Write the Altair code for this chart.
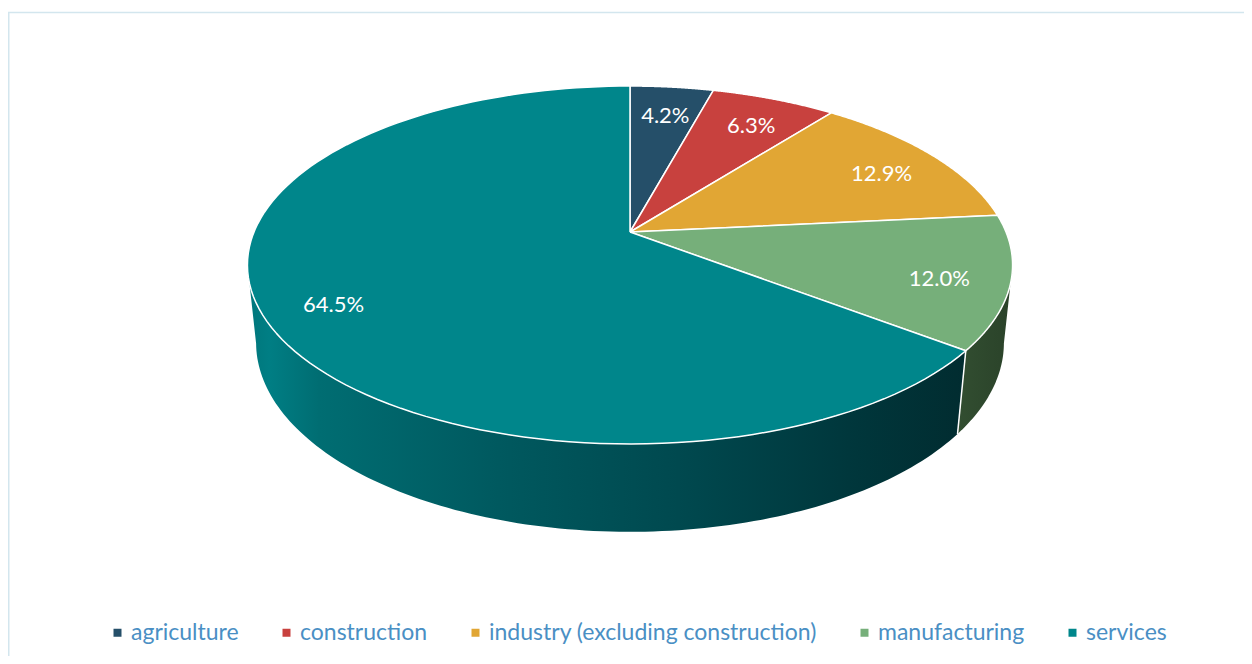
import altair as alt
import pandas as pd

# ---------------- data ----------------
CATEGORIES = ["agriculture", "construction", "industry (excluding construction)",
              "manufacturing", "services"]
VALUES = [4.2, 6.3, 12.9, 12.0, 64.5]
COLORS = ["#254f69", "#c8413e", "#e1a634", "#76af7a", "#00868b"]

# ---------------- geometry / style ----------------
W, H = 1236, 648
CX, CY = 622, 224          # pie apex (view pixels)
F = 1810.7                 # focal scale
D = 4.8156                 # camera distance (radius units)
SB, CB = 0.4598, 0.8880    # sin / cos of camera elevation
HT = 0.2347                # pie thickness (radius units)
N = 120                    # points per arc
LABEL_R = 0.82

pie = pd.DataFrame({"cat": CATEGORIES, "value": VALUES,
                    "idx": list(range(len(CATEGORIES)))})


def px(a, r="1", z="0"):
    return (f"{CX} + {F}*({r})*sin({a})/"
            f"({D} + ({r})*cos({a})*{CB} + ({z})*{HT}*{SB})")


def py(a, r="1", z="0"):
    return (f"{CY} + {F}*(-({r})*cos({a})*{SB} + ({z})*{HT}*{CB})/"
            f"({D} + ({r})*cos({a})*{CB} + ({z})*{HT}*{SB})")


XS = alt.Scale(domain=[0, W], nice=False, zero=False)
YS = alt.Scale(domain=[0, H], nice=False, zero=False, reverse=True)

base = (alt.Chart(pie)
        .transform_joinaggregate(total="sum(value)")
        .transform_window(cum="sum(value)", sort=[alt.SortField("idx")], frame=[None, 0])
        .transform_calculate(a1="2*PI*datum.cum/datum.total")
        .transform_calculate(a0="datum.a1 - 2*PI*datum.value/datum.total",
                             aR=f"acos(-{CB}/{D})")
        .transform_calculate(aL="2*PI - datum.aR"))

fill_scale = alt.Scale(domain=CATEGORIES, range=COLORS)

# hidden squares under the apex (provide the legend)
legend_layer = (base
    .transform_calculate(lx=str(CX), ly=str(CY))
    .mark_square(size=64, opacity=1)
    .encode(
        x=alt.X("lx:Q", scale=XS, axis=None),
        y=alt.Y("ly:Q", scale=YS, axis=None),
        fill=alt.Fill("cat:N", scale=fill_scale,
                      legend=alt.Legend(title=None, orient="none", legendX=98, legendY=613,
                                        direction="horizontal", columnPadding=36,
                                        symbolType="square", symbolSize=64,
                                        symbolStrokeWidth=0, labelFont="Lato",
                                        labelFontSize=23, labelColor="#4a8fc4",
                                        labelOffset=2, labelLimit=600)),
    ))

# side walls
walls = (base
    .transform_calculate(s2="max(datum.a0, datum.aR)", e2="min(datum.a1, datum.aL)")
    .transform_filter("datum.s2 < datum.e2")
    .transform_calculate(t=f"sequence(0, {2 * N + 2})")
    .transform_flatten(["t"])
    .transform_calculate(
        zf=f"datum.t <= {N} ? 0 : 1",
        ang=f"datum.t <= {N} ? datum.s2 + (datum.e2 - datum.s2)*datum.t/{N} "
            f": datum.e2 - (datum.e2 - datum.s2)*(datum.t - {N + 1})/{N}")
    .transform_calculate(wx=px("datum.ang", "1", "datum.zf"),
                         wy=py("datum.ang", "1", "datum.zf")))


def grad(stops):
    return alt.LinearGradient(gradient="linear", x1=0, x2=1, y1=0, y2=0,
                              stops=[alt.GradientStop(color=c, offset=o) for o, c in stops])


services_wall = (walls.transform_filter(alt.datum.cat == CATEGORIES[4])
    .mark_line(fill=grad([(0.0, "#00767b"), (0.03, "#007e84"), (0.1, "#006d72"),
                          (0.35, "#00595f"), (0.6, "#00494f"), (0.85, "#00363b"),
                          (1.0, "#012c30")]),
               stroke="transparent")
    .encode(x=alt.X("wx:Q", scale=XS, axis=None), y=alt.Y("wy:Q", scale=YS, axis=None),
            order=alt.Order("t:Q")))

manuf_wall = (walls.transform_filter(alt.datum.cat == CATEGORIES[3])
    .mark_line(fill=grad([(0.0, "#324e31"), (1.0, "#2a4229")]), stroke="transparent")
    .encode(x=alt.X("wx:Q", scale=XS, axis=None), y=alt.Y("wy:Q", scale=YS, axis=None),
            order=alt.Order("t:Q")))

# white divider between visible walls
divider = (base
    .transform_filter("datum.a0 > datum.aR && datum.a0 < datum.aL")
    .transform_calculate(dx=px("datum.a0", "1", "0"), dy=py("datum.a0", "1", "0"),
                         dx2=px("datum.a0", "1", "1"), dy2=py("datum.a0", "1", "1"))
    .mark_rule(stroke="white", strokeWidth=1.5)
    .encode(x=alt.X("dx:Q", scale=XS, axis=None), y=alt.Y("dy:Q", scale=YS, axis=None),
            x2="dx2:Q", y2="dy2:Q"))

# top faces
top = (base
    .transform_calculate(t=f"sequence(0, {N + 3})")
    .transform_flatten(["t"])
    .transform_calculate(
        ang=f"datum.a0 + (datum.a1 - datum.a0)*clamp(datum.t - 1, 0, {N})/{N}",
        rr=f"(datum.t == 0 || datum.t == {N + 2}) ? 0 : 1")
    .transform_calculate(sx=px("datum.ang", "datum.rr"), sy=py("datum.ang", "datum.rr"))
    .mark_line(stroke="white", strokeWidth=1.5, strokeJoin="round")
    .encode(x=alt.X("sx:Q", scale=XS, axis=None), y=alt.Y("sy:Q", scale=YS, axis=None),
            fill=alt.Fill("cat:N", scale=fill_scale, legend=None),
            detail="cat:N", order=alt.Order("t:Q")))

labels = (base
    .transform_calculate(am="(datum.a0 + datum.a1)/2")
    .transform_calculate(tx=px("datum.am", str(LABEL_R)), ty=py("datum.am", str(LABEL_R)),
                         txt="format(datum.value, '.1f') + '%'")
    .mark_text(font="Lato", fontSize=22, color="white", align="center", baseline="middle",
               dy=6)
    .encode(x=alt.X("tx:Q", scale=XS, axis=None), y=alt.Y("ty:Q", scale=YS, axis=None),
            text="txt:N"))

frame_df = pd.DataFrame({"k": [0]})
border_top = alt.Chart(frame_df).mark_rule(stroke="#d3e6ee", strokeWidth=1.5).encode(
    x=alt.value(0), x2=alt.value(W), y=alt.value(4.5))
border_left = alt.Chart(frame_df).mark_rule(stroke="#d3e6ee", strokeWidth=1.5).encode(
    x=alt.value(0.75), y=alt.value(4.5), y2=alt.value(H))

chart = (alt.layer(legend_layer, services_wall, manuf_wall, divider, top, labels,
                   border_top, border_left)
         .properties(width=W, height=H, padding=0,
                     autosize=alt.AutoSizeParams(type="none"),
                     background="white")
         .configure_view(strokeWidth=0))

chart.save("out.html", embed_options={"renderer": "svg", "actions": False})
